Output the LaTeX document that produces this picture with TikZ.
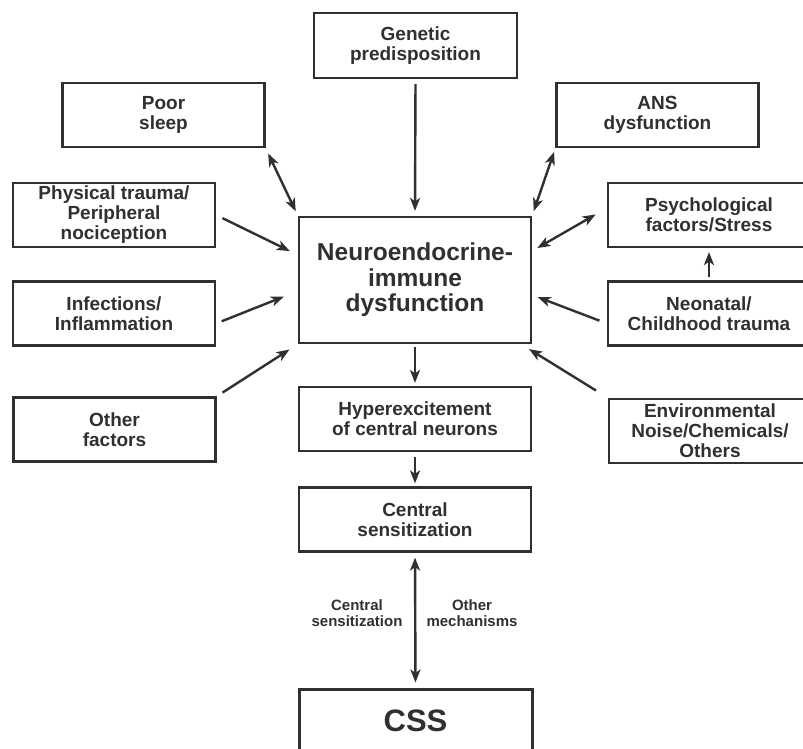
\documentclass[tikz,border=0pt]{standalone}
\usepackage{fontspec}
\setmainfont{Liberation Sans}
\usetikzlibrary{arrows.meta,calc}
\definecolor{ink}{HTML}{303030}
\begin{document}
\begin{tikzpicture}[x=1pt,y=-1pt,
  box/.style={draw=ink, line width=2.2pt, text=ink, align=center, inner sep=0pt,
    minimum width=202pt, minimum height=64pt, font=\bfseries\fontsize{19}{20}\selectfont},
  wide/.style={box, minimum width=232pt},
  tip/.tip={Stealth[length=13pt,width=10pt,inset=3.5pt]},
  arr/.style={draw=ink, line width=2.4pt, -tip},
  darr/.style={draw=ink, line width=2.4pt, tip-tip},
  lbl/.style={text=ink, align=center, inner sep=0pt, font=\bfseries\fontsize{15}{16}\selectfont}]
\useasboundingbox (0,0) rectangle (803,749);
\clip (0,0) rectangle (803,749);
\fill[white] (0,0) rectangle (803,749);

% boxes
\node[box, minimum width=203pt, minimum height=65pt] (genetic) at (415.5,45.5) {Genetic\\predisposition};
\node[box] (sleep) at (163.5,115) {Poor\\sleep};
\node[box] (phys) at (114,215) {Physical trauma/\\Peripheral\\nociception};
\node[box] (infect) at (114,313.5) {Infections/\\Inflammation};
\node[box] (other) at (114.5,429.5) {Other\\factors};
\node[box] (ans) at (657.5,115) {ANS\\dysfunction};
\node[box] (psych) at (709,215) {Psychological\\factors/Stress};
\node[box] (neonatal) at (709,313.5) {Neonatal/\\Childhood trauma};
\node[box] (env) at (710,431) {Environmental\\Noise/Chemicals/\\Others};
\node[wide, minimum height=126pt, font=\bfseries\fontsize{24.5}{25.5}\selectfont] (neuro) at (415,280) {Neuroendocrine-\\immune\\dysfunction};
\node[wide] (hyper) at (415,419) {Hyperexcitement\\of central neurons};
\node[wide] (central) at (415,519.5) {Central\\sensitization};
\node[wide, line width=3pt, minimum width=233pt, font=\bfseries\fontsize{31}{32}\selectfont] (css) at (415.5,721) {CSS};

% labels
\node[lbl] (lcs) at (357,613) {Central\\sensitization};
\node[lbl] (lom) at (472,613) {Other\\mechanisms};

% connectors
\draw[arr, shorten <=5pt, shorten >=5pt] (genetic.south) -- (neuro.north);
\draw[darr, shorten <=6pt, shorten >=5pt] (sleep.south east) -- (neuro.north west);
\draw[arr, shorten <=7pt, shorten >=9pt] (phys.east) -- ($(neuro.west)+(0,-25)$);
\draw[arr, shorten <=6pt, shorten >=15pt] ($(infect.east)+(0,10)$) -- ($(neuro.west)+(0,11)$);
\draw[arr, shorten <=7pt, shorten >=10pt] (other.north east) -- (neuro.south west);
\draw[darr, shorten <=5pt, shorten >=4pt] (neuro.north east) -- (ans.south west);
\draw[darr, shorten <=6pt, shorten >=13pt] ($(neuro.east)+(0,-29)$) -- ($(psych.west)+(0,-7)$);
\draw[arr, shorten <=3pt, shorten >=4pt] (neonatal.north) -- (psych.south);
\draw[arr, shorten <=8pt, shorten >=6pt] ($(neonatal.west)+(0,10)$) -- ($(neuro.east)+(0,15)$);
\draw[arr, shorten <=14pt] (env.north west) -- ($(neuro.south east)+(-3,5)$);
\draw[arr, shorten <=3pt, shorten >=3pt] (neuro.south) -- (hyper.north);
\draw[arr, shorten <=5pt, shorten >=3pt] (hyper.south) -- (central.north);
\draw[darr, shorten <=5pt, shorten >=5pt] (central.south) -- (css.north);
\end{tikzpicture}
\end{document}
